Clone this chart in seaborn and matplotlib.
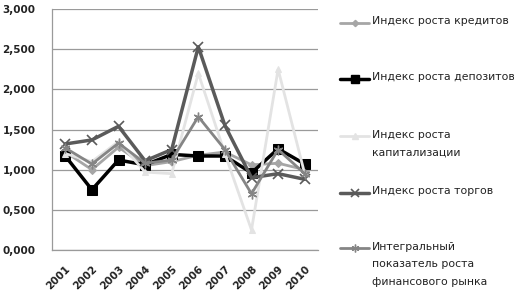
import matplotlib
matplotlib.use("Agg")
import matplotlib.pyplot as plt
from matplotlib.lines import Line2D
from matplotlib.ticker import FuncFormatter, FixedLocator
import seaborn as sns
import numpy as np

years = ["2001", "2002", "2003", "2004", "2005", "2006", "2007", "2008", "2009", "2010"]
credit_index = [1.22, 1.00, 1.28, 1.05, 1.10, 1.18, 1.22, 1.06, 1.08, 1.00]
deposit_index = [1.17, 0.75, 1.12, 1.06, 1.19, 1.17, 1.17, 0.96, 1.26, 1.07]
capital_index = [1.20, 1.10, 1.35, 0.97, 0.95, 2.20, 1.20, 0.25, 2.25, 0.95]
trade_index = [1.32, 1.37, 1.54, 1.11, 1.25, 2.53, 1.55, 0.90, 0.95, 0.88]
integral_index = [1.27, 1.07, 1.33, 1.08, 1.12, 1.66, 1.25, 0.70, 1.25, 0.95]

labels = [
    "Индекс роста кредитов",
    "Индекс роста депозитов",
    "Индекс роста\nкапитализации",
    "Индекс роста торгов",
    "Интегральный\nпоказатель роста\nфинансового рынка",
]
series = [credit_index, deposit_index, capital_index, trade_index, integral_index]
styles = [
    dict(color="#a6a6a6", marker="D", markersize=4, linewidth=2.0),
    dict(color="#000000", marker="s", markersize=7, linewidth=2.5),
    dict(color="#e3e3e3", marker="^", markersize=5, linewidth=2.0),
    dict(color="#5a5a5a", marker="x", markersize=7, linewidth=2.5, markeredgewidth=1.2),
    dict(color="#858585", marker=(6, 2, 0), markersize=7, linewidth=2.0, markeredgewidth=1.0),
]

sns.set_style("white")
plt.rcParams["font.family"] = ["DejaVu Sans"]

fig = plt.figure(figsize=(5.14, 2.98), dpi=100)
ax = fig.add_axes([52 / 514, 48 / 298, 266 / 514, 241 / 298])

x = np.arange(len(years))
for vals, st in zip(series, styles):
    sns.lineplot(x=x, y=vals, ax=ax, legend=False, markeredgecolor=st["color"], **st)

ax.set_xlim(-0.5, len(years) - 0.5)
ax.set_ylim(0, 3)
ax.set_yticks(np.arange(0, 3.01, 0.5))
ax.yaxis.set_major_formatter(FuncFormatter(lambda v, p: f"{v:.3f}".replace(".", ",")))
ax.yaxis.grid(True, color="#9a9a9a", linewidth=0.9)
ax.set_axisbelow(True)

ax.set_xticks(x)
ax.set_xticklabels(years, rotation=45, ha="right", rotation_mode="anchor")
ax.xaxis.set_minor_locator(FixedLocator(np.arange(-0.5, len(years), 1.0)))
ax.tick_params(axis="x", which="major", length=0, pad=10, labelsize=7.5)
ax.tick_params(axis="x", which="minor", length=4, width=0.8, color="#8c8c8c", direction="out")
ax.tick_params(axis="y", length=4, width=0.8, color="#9a9a9a", labelsize=7.5, pad=8)
for lab in ax.get_xticklabels() + ax.get_yticklabels():
    lab.set_fontweight("bold")
    lab.set_color("#222222")

for side in ["top", "right"]:
    ax.spines[side].set_visible(False)
ax.spines["left"].set_color("#9a9a9a")
ax.spines["bottom"].set_color("#9a9a9a")
ax.spines["left"].set_linewidth(0.9)
ax.spines["bottom"].set_linewidth(0.9)

# legend laid out like the source: marker level with the first text line, evenly spaced
marker_y = [23, 79, 136, 193, 248]
for lab, st, yy in zip(labels, styles, marker_y):
    fy = 1 - yy / 298
    fig.add_artist(Line2D([340 / 514, 354.5 / 514, 369 / 514], [fy, fy, fy],
                          transform=fig.transFigure, color=st["color"],
                          linewidth=st["linewidth"], marker=st["marker"], markevery=[1],
                          markersize=st["markersize"] * 0.8, markeredgecolor=st["color"],
                          markeredgewidth=st.get("markeredgewidth", 1.0)))
    fig.text(372 / 514, 1 - (yy - 6.5) / 298, lab, fontsize=7.8, color="#222222", va="top",
             ha="left", linespacing=1.95, transform=fig.transFigure)

fig.savefig("out.png", dpi=100)
